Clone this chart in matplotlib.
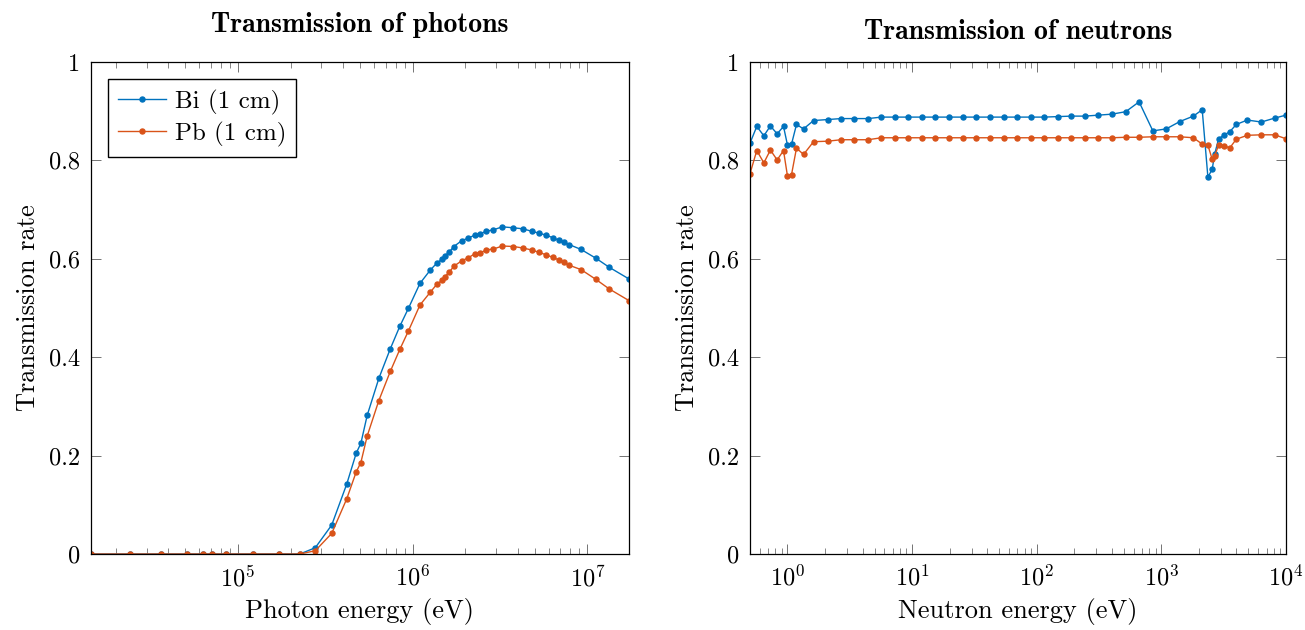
import matplotlib
matplotlib.use("Agg")
import matplotlib.pyplot as plt
from matplotlib.ticker import LogLocator, NullFormatter

plt.rcParams.update({
    "font.family": "serif",
    "font.serif": ["cmr10"],
    "mathtext.fontset": "cm",
    "axes.formatter.use_mathtext": True,
    "axes.unicode_minus": False,
    "font.size": 17,
})

BLUE = "#0072BD"
ORANGE = "#D95319"

# photon transmission through 1 cm of material
photon_energy = [1.44e4, 2.42e4, 3.62e4, 5.09e4, 6.32e4, 7.06e4, 8.53e4, 1.22e5,
                 1.72e5, 2.26e5, 2.77e5, 3.44e5, 4.19e5, 4.75e5, 5.05e5, 5.49e5,
                 6.40e5, 7.44e5, 8.44e5, 9.44e5, 1.10e6, 1.26e6, 1.38e6, 1.47e6,
                 1.53e6, 1.62e6, 1.72e6, 1.91e6, 2.08e6, 2.26e6, 2.43e6, 2.64e6,
                 2.90e6, 3.26e6, 3.77e6, 4.27e6, 4.79e6, 5.30e6, 5.81e6, 6.32e6,
                 6.84e6, 7.35e6, 7.85e6, 9.20e6, 1.12e7, 1.33e7, 1.73e7]
photon_bi = [0, 0, 0, 0, 0, 0, 0, 0, 0, 0, 0.0128, 0.059, 0.142, 0.205, 0.225,
             0.282, 0.357, 0.417, 0.463, 0.499, 0.550, 0.577, 0.592, 0.599, 0.606,
             0.614, 0.625, 0.637, 0.642, 0.648, 0.651, 0.656, 0.659, 0.665, 0.663,
             0.661, 0.656, 0.652, 0.648, 0.643, 0.638, 0.634, 0.629, 0.619, 0.601,
             0.583, 0.559]
photon_pb = [0, 0, 0, 0, 0, 0, 0, 0, 0, 0, 0.0067, 0.042, 0.112, 0.167, 0.186,
             0.240, 0.312, 0.371, 0.416, 0.453, 0.506, 0.532, 0.549, 0.556, 0.564,
             0.573, 0.585, 0.596, 0.602, 0.610, 0.612, 0.618, 0.620, 0.626, 0.625,
             0.622, 0.618, 0.613, 0.608, 0.603, 0.598, 0.593, 0.587, 0.578, 0.558,
             0.539, 0.515]

# neutron transmission through 1 cm of material
neutron_energy = [0.5, 0.567, 0.646, 0.729, 0.826, 0.929, 1.0, 1.077, 1.181, 1.345,
                  1.618, 2.097, 2.69, 3.44, 4.43, 5.66, 7.24, 9.34, 11.9, 15.4,
                  19.8, 25.5, 32.7, 42.0, 54.2, 69.8, 89.8, 115, 147, 190, 244, 313,
                  402, 518, 663, 855, 1094, 1408, 1808, 2128, 2364, 2560, 2675, 2882,
                  3209, 3533, 3992, 4896, 6345, 8128, 10000]
neutron_bi = [0.835, 0.869, 0.850, 0.870, 0.854, 0.869, 0.831, 0.833, 0.873, 0.864,
              0.881, 0.883, 0.885, 0.885, 0.885, 0.888, 0.888, 0.888, 0.888, 0.888,
              0.888, 0.888, 0.888, 0.888, 0.888, 0.888, 0.888, 0.888, 0.889, 0.890,
              0.890, 0.892, 0.894, 0.899, 0.919, 0.860, 0.864, 0.879, 0.890, 0.903,
              0.766, 0.782, 0.812, 0.844, 0.852, 0.858, 0.873, 0.882, 0.878, 0.886,
              0.892]
neutron_pb = [0.773, 0.820, 0.795, 0.821, 0.801, 0.820, 0.768, 0.771, 0.825, 0.812,
              0.838, 0.839, 0.842, 0.842, 0.842, 0.846, 0.846, 0.846, 0.846, 0.846,
              0.846, 0.846, 0.846, 0.846, 0.846, 0.846, 0.846, 0.846, 0.846, 0.846,
              0.846, 0.846, 0.846, 0.847, 0.847, 0.848, 0.848, 0.848, 0.846, 0.833,
              0.831, 0.802, 0.809, 0.831, 0.830, 0.825, 0.843, 0.851, 0.852, 0.852,
              0.844]

y_ticks = [0, 0.2, 0.4, 0.6, 0.8, 1.0]
y_tick_labels = ["0", "0.2", "0.4", "0.6", "0.8", "1"]

fig = plt.figure(figsize=(13.05, 6.30), dpi=100)
ax1 = fig.add_axes([0.0697, 0.1206, 0.4123, 0.781])
ax2 = fig.add_axes([0.5747, 0.1206, 0.4107, 0.781])


def style_axis(ax, xmin, xmax):
    ax.set_xscale("log")
    ax.set_xlim(xmin, xmax)
    ax.set_ylim(0, 1)
    ax.set_yticks(y_ticks, y_tick_labels)
    ax.xaxis.set_major_locator(LogLocator(base=10, numticks=20))
    ax.xaxis.set_minor_locator(LogLocator(base=10, subs=range(2, 10), numticks=100))
    ax.xaxis.set_minor_formatter(NullFormatter())
    ax.tick_params(which="both", direction="in", top=True, right=True,
                   color="0.45", labelsize=17.5, pad=8)
    ax.tick_params(which="major", length=7, width=0.7)
    ax.tick_params(which="minor", length=4.5, width=0.6)
    for s in ax.spines.values():
        s.set_linewidth(0.9)
    ax.set_ylabel("Transmission rate", fontsize=19, labelpad=6)


line_kw = dict(marker="o", markersize=3.6, linewidth=1.0)

ax1.plot(photon_energy, photon_bi, color=BLUE, label="Bi (1 cm)", **line_kw)
ax1.plot(photon_energy, photon_pb, color=ORANGE, label="Pb (1 cm)", **line_kw)
style_axis(ax1, photon_energy[0], photon_energy[-1])
ax1.set_xlabel("Photon energy (eV)", fontsize=19, labelpad=5)
ax1.set_title("Transmission of photons", fontfamily="cmb10", fontsize=20, pad=21.5)
ax1.legend(loc="upper left", fontsize=18, frameon=True, fancybox=False,
           edgecolor="black", framealpha=1, handlelength=1.9,
           borderaxespad=0.7, borderpad=0.4, labelspacing=0.28, handletextpad=0.35)

ax2.plot(neutron_energy, neutron_bi, color=BLUE, **line_kw)
ax2.plot(neutron_energy, neutron_pb, color=ORANGE, **line_kw)
style_axis(ax2, neutron_energy[0], neutron_energy[-1])
ax2.set_xlabel("Neutron energy (eV)", fontsize=19, labelpad=5)
ax2.set_title("Transmission of neutrons", fontfamily="cmb10", fontsize=20, pad=16.5)

fig.savefig("out.png", dpi=100)
